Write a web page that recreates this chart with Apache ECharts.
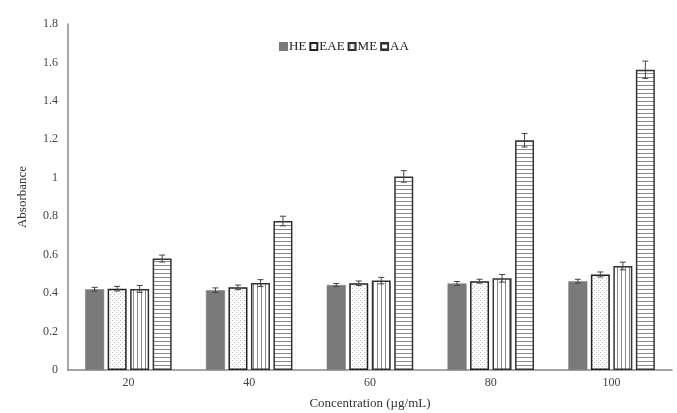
<!DOCTYPE html>
<html>
<head>
<meta charset="utf-8">
<script src="https://cdn.jsdelivr.net/npm/echarts@6/dist/echarts.min.js"></script>
<style>
html,body{margin:0;padding:0;background:#fff;}
#chart{width:677px;height:413px;}
</style>
</head>
<body>
<div id="chart"></div>
<script>
// Concentrations (µg/mL)
const categories = ['20', '40', '60', '80', '100'];
const seriesNames = ['HE', 'EAE', 'ME', 'AA'];
// Mean absorbance per extract
const heValues  = [0.420, 0.415, 0.442, 0.450, 0.462];
const eaeValues = [0.423, 0.430, 0.451, 0.462, 0.497];
const meValues  = [0.422, 0.452, 0.465, 0.477, 0.541];
const aaValues  = [0.580, 0.775, 1.007, 1.195, 1.562];
// Standard deviations
const heErr  = [0.010, 0.012, 0.008, 0.010, 0.010];
const eaeErr = [0.012, 0.012, 0.012, 0.010, 0.013];
const meErr  = [0.018, 0.018, 0.017, 0.020, 0.020];
const aaErr  = [0.018, 0.025, 0.030, 0.035, 0.045];
const yTicks = [0, 0.2, 0.4, 0.6, 0.8, 1, 1.2, 1.4, 1.6, 1.8];

const allValues = [heValues, eaeValues, meValues, aaValues];
const allErrors = [heErr, eaeErr, meErr, aaErr];

function makePattern(w, h, draw) {
  const c = document.createElement('canvas');
  c.width = w; c.height = h;
  const ctx = c.getContext('2d');
  ctx.fillStyle = '#ffffff';
  ctx.fillRect(0, 0, w, h);
  draw(ctx);
  return { image: c, repeat: 'repeat' };
}
const dotted = makePattern(4, 4, ctx => {
  ctx.fillStyle = '#b8b8b8';
  ctx.fillRect(0, 0, 1, 1);
  ctx.fillRect(2, 2, 1, 1);
});
const vertical = makePattern(4, 4, ctx => {
  ctx.fillStyle = '#8a8a8a';
  ctx.fillRect(1, 0, 1, 4);
});
const horizontal = makePattern(4, 4, ctx => {
  ctx.fillStyle = '#8a8a8a';
  ctx.fillRect(0, 1, 4, 1);
});

const fills = ['#7a7a7a', dotted, vertical, horizontal];
const borders = ['#7a7a7a', '#222222', '#333333', '#333333'];

const BAR_W = 19;
const GAP = 3.5;

const barSeries = seriesNames.map((name, i) => ({
  name: name,
  type: 'bar',
  data: allValues[i],
  barWidth: BAR_W,
  barGap: (GAP / BAR_W * 100) + '%',
  itemStyle: { color: fills[i], borderColor: borders[i], borderWidth: i === 0 ? 0.5 : 1.5 },
  emphasis: { disabled: true }
}));

const errorSeries = seriesNames.map((name, i) => ({
  type: 'custom',
  name: name + '-err',
  data: allValues[i].map((v, k) => [k, v - allErrors[i][k], v + allErrors[i][k]]),
  z: 5,
  renderItem: function (params, api) {
    const k = api.value(0);
    const total = 4 * BAR_W + 3 * GAP;
    const off = -total / 2 + BAR_W / 2 + i * (BAR_W + GAP);
    const lo = api.coord([k, api.value(1)]);
    const hi = api.coord([k, api.value(2)]);
    const x = lo[0] + off;
    const cap = 3;
    const st = { stroke: '#444', lineWidth: 1 };
    return {
      type: 'group',
      children: [
        { type: 'line', shape: { x1: x, y1: lo[1], x2: x, y2: hi[1] }, style: st },
        { type: 'line', shape: { x1: x - cap, y1: lo[1], x2: x + cap, y2: lo[1] }, style: st },
        { type: 'line', shape: { x1: x - cap, y1: hi[1], x2: x + cap, y2: hi[1] }, style: st }
      ]
    };
  }
}));

const chart = echarts.init(document.getElementById('chart'));
chart.setOption({
  animation: false,
  backgroundColor: '#ffffff',
  textStyle: { fontFamily: 'Liberation Serif' },
  grid: { left: 68, right: 5, top: 24, bottom: 43, containLabel: false, outerBoundsMode: 'none' },
  legend: {
    data: seriesNames,
    top: 35,
    left: 274,
    icon: 'rect',
    itemWidth: 7,
    itemHeight: 7,
    itemGap: 3,
    textStyle: { fontFamily: 'Liberation Serif', fontSize: 13, color: '#222', padding: [0, 0, 0, -3] }
  },
  xAxis: {
    type: 'category',
    data: categories,
    name: 'Concentration (µg/mL)',
    nameLocation: 'middle',
    nameGap: 27,
    nameTextStyle: { fontFamily: 'Liberation Serif', fontSize: 13, color: '#333' },
    axisLine: { lineStyle: { color: '#888', width: 1.5 } },
    axisTick: { show: false },
    axisLabel: { fontFamily: 'Liberation Serif', fontSize: 12, color: '#444', margin: 7 }
  },
  yAxis: {
    type: 'value',
    min: 0,
    max: 1.8,
    interval: 0.2,
    name: 'Absorbance',
    nameLocation: 'middle',
    nameGap: 39,
    nameTextStyle: { fontFamily: 'Liberation Serif', fontSize: 13, color: '#333' },
    axisLine: { show: true, lineStyle: { color: '#888', width: 1.5 } },
    axisTick: { show: false },
    splitLine: { show: false },
    axisLabel: {
      fontFamily: 'Liberation Serif', fontSize: 12, color: '#444', margin: 10,
      formatter: v => {
        const t = yTicks.find(y => Math.abs(y - v) < 1e-6);
        return t === undefined ? '' : String(t);
      }
    }
  },
  series: barSeries.concat(errorSeries)
});
</script>
</body>
</html>
